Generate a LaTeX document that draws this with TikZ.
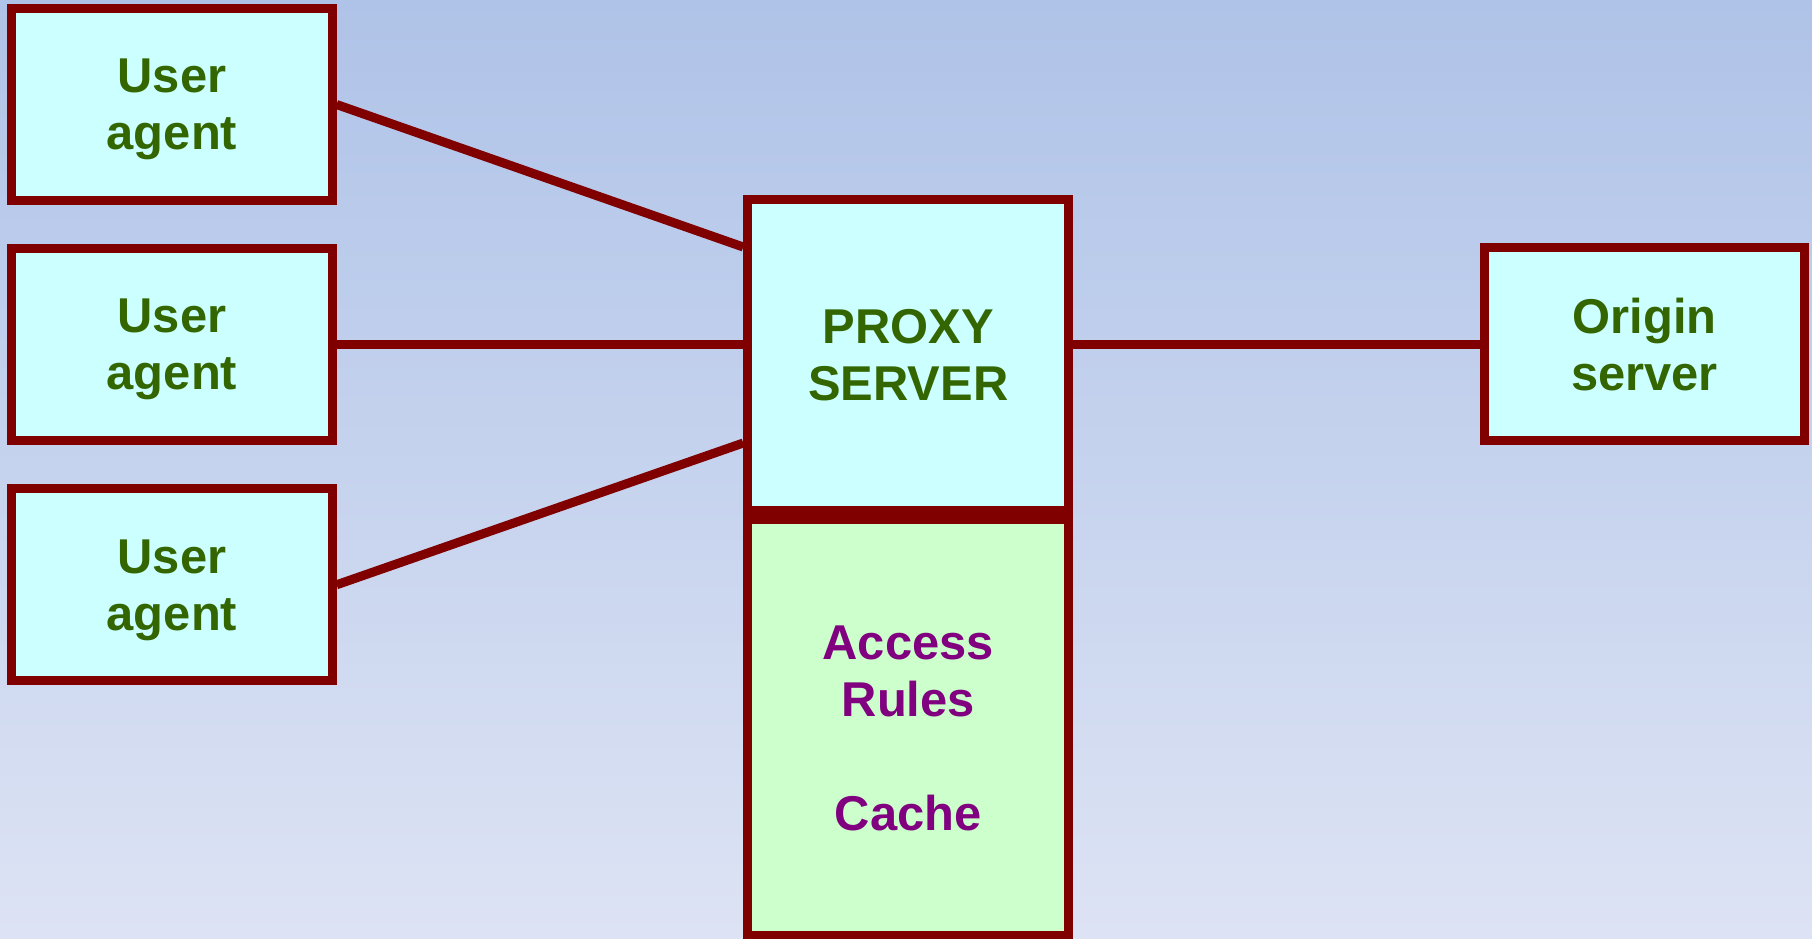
\documentclass[tikz,border=0pt]{standalone}
\usepackage{fontspec}
\setmainfont{Liberation Sans}
\usetikzlibrary{
    calc,
    positioning
}
\definecolor{wire}{HTML}{800000}
\definecolor{boxfill}{HTML}{CCFFFF}
\definecolor{cachefill}{HTML}{CCFFCC}
\definecolor{labelgreen}{HTML}{336600}
\definecolor{labelpurple}{HTML}{800080}
\definecolor{bgtop}{HTML}{AFC3E8}
\definecolor{bgbottom}{HTML}{DDE3F4}

\begin{document}
\begin{tikzpicture}[
    x=0.01cm,
    y=-0.01cm,
    node distance=0.39cm,
    box/.style={
        rectangle,
        draw=wire,
        line width=0.09cm,
        fill=boxfill,
        align=center,
        text=labelgreen,
        font=\fontsize{13.9}{16.2}\selectfont\bfseries,
        text depth=-2pt,
        minimum width=3.2cm,
        minimum height=1.92cm,
        inner sep=0pt
    },
    link/.style={
        draw=wire,
        line width=0.09cm
    }
]

% background
\shade[top color=bgtop,bottom color=bgbottom] (0,0) rectangle (1812,938);
\useasboundingbox (0,0) rectangle (1812,938);

%--------------------------------------------------
\node[box] (ua1) at (172,104.5)
{
User\\agent
};

\node[box,below=of ua1] (ua2)
{
User\\agent
};

\node[box,below=of ua2] (ua3)
{
User\\agent
};

\node[box,minimum width=3.21cm,minimum height=3.11cm] (proxy) at (908.3,355)
{
PROXY\\SERVER
};

\node[box,below=0pt of proxy,fill=cachefill,text=labelpurple,
      minimum width=3.21cm,minimum height=4.16cm] (cache)
{
Access\\Rules\\[16.2pt]Cache
};

\node[box] (origin) at (1644.5,344)
{
Origin\\server
};

%--------------------------------------------------
\draw[link] (ua1.east) -- ($(proxy.west)+(0,-108)$);
\draw[link] (ua2.east) -- (ua2.east -| proxy.west);
\draw[link] (ua3.east) -- ($(proxy.west)+(0,88)$);
\draw[link] (origin.west -| proxy.east) -- (origin.west);

\end{tikzpicture}
\end{document}
